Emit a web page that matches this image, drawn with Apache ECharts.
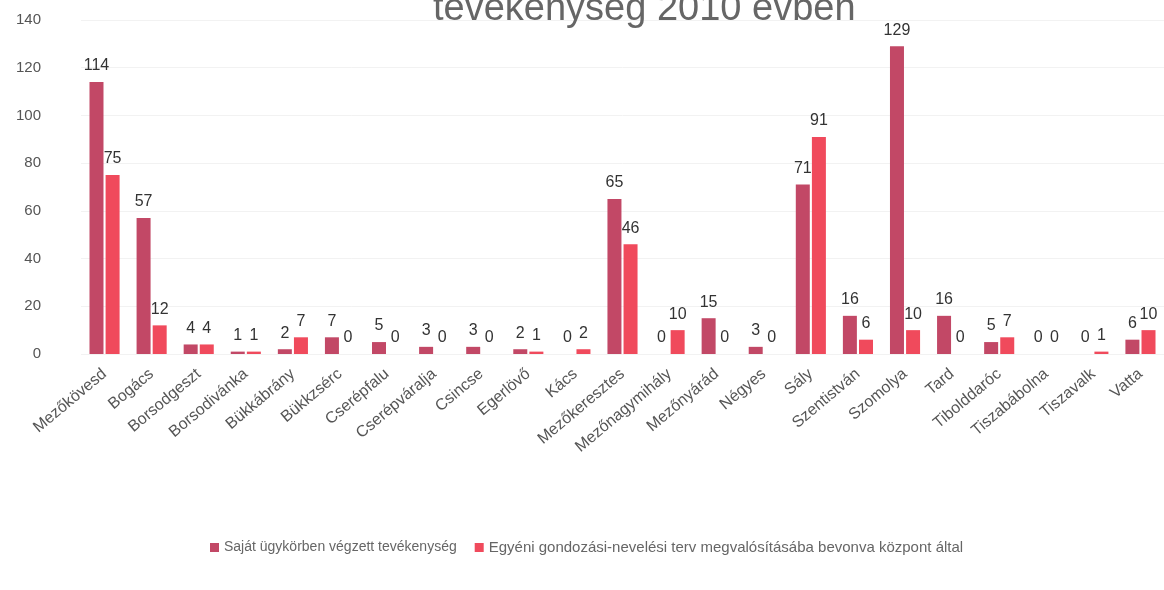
<!DOCTYPE html>
<html>
<head>
<meta charset="utf-8">
<script src="https://cdn.jsdelivr.net/npm/echarts@6/dist/echarts.min.js"></script>
<style>
html,body{margin:0;padding:0;background:#fff;}
#chart{width:1164px;height:590px;}
</style>
</head>
<body>
<div id="chart"></div>
<script>
const categories = ["Mezőkövesd","Bogács","Borsodgeszt","Borsodivánka","Bükkábrány","Bükkzsérc","Cserépfalu","Cserépváralja","Csincse","Egerlövő","Kács","Mezőkeresztes","Mezőnagymihály","Mezőnyárád","Négyes","Sály","Szentistván","Szomolya","Tard","Tibolddaróc","Tiszabábolna","Tiszavalk","Vatta"];
const sajatValues = [114,57,4,1,2,7,5,3,3,2,0,65,0,15,3,71,16,129,16,5,0,0,6];
const egyeniValues = [75,12,4,1,7,0,0,0,0,1,2,46,10,0,0,91,6,10,0,7,0,1,10];
const seriesNames = ["Saját ügykörben végzett tevékenység","Egyéni gondozási-nevelési terv megvalósításába bevonva központ által"];
const titleText = "tevékenység 2010 évben";

const chart = echarts.init(document.getElementById('chart'));
const labelStyle = {show:true, position:'top', color:'#333', fontSize:16, fontFamily:'Liberation Sans Narrow, Liberation Sans, Arial', distance:8};
chart.setOption({
  backgroundColor:'#fff',
  animation:false,
  title:{text:titleText, left:428, top:-14, textStyle:{fontSize:38, fontWeight:'normal', color:'#666', fontFamily:'Liberation Sans, Arial'}},
  grid:{left:81, right:0, top:20, bottom:236, containLabel:false},
  legend:{bottom:30, left:205, itemWidth:9, itemHeight:9, itemGap:18, icon:'rect',
    data:[{name:seriesNames[0]},{name:seriesNames[1], textStyle:{fontSize:15}}],
    textStyle:{fontSize:14, color:'#666', fontFamily:'Liberation Sans Narrow, Liberation Sans, Arial'}},
  xAxis:{type:'category', data:categories,
    axisLine:{show:false}, axisTick:{show:false},
    axisLabel:{rotate:40, interval:0, fontSize:16, color:'#555', margin:18, fontFamily:'Liberation Sans, Arial'}},
  yAxis:{type:'value', min:0, max:140, interval:20,
    axisLine:{show:false}, axisTick:{show:false},
    splitLine:{lineStyle:{color:'#f2f2f2'}},
    axisLabel:{fontSize:15, color:'#555', margin:40, fontFamily:'Liberation Sans Narrow, Liberation Sans, Arial'}},
  series:[
    {name:seriesNames[0], type:'bar', data:sajatValues, barWidth:14, barGap:'15%',
      itemStyle:{color:'#c24866'}, label:labelStyle},
    {name:seriesNames[1], type:'bar', data:egyeniValues, barWidth:14,
      itemStyle:{color:'#f04a5c'}, label:labelStyle}
  ]
});
</script>
</body>
</html>
